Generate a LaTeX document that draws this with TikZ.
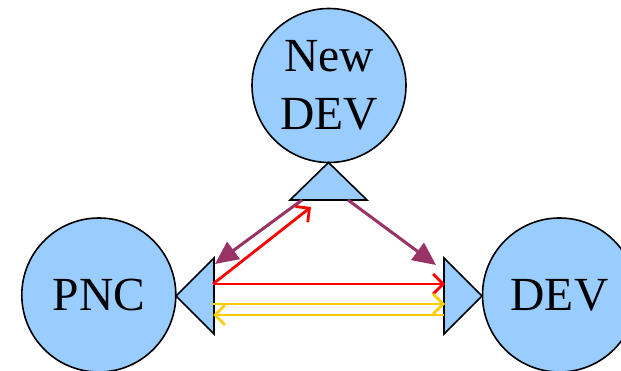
\documentclass[tikz,border=0pt]{standalone}
\usepackage{fontspec}
\setmainfont{Liberation Serif}
\usetikzlibrary{arrows.meta}
\definecolor{nodeblue}{HTML}{99CCFF}
\definecolor{plum}{HTML}{993366}
\definecolor{gold}{HTML}{FFCC00}
\begin{document}
\begin{tikzpicture}[x=1pt,y=-1pt,
  devnode/.style={circle, draw=black, line width=1.6pt, fill=nodeblue,
    minimum size=154pt, inner sep=0pt, align=center,
    font=\fontsize{47.5}{57.6}\selectfont},
  tri/.style={draw=black, line width=1.6pt, fill=nodeblue, line join=miter},
  plumarrow/.style={draw=plum, line width=3pt, -{Triangle[length=23pt,width=21pt]}},
  redarrow/.style={draw=red, line width=2.8pt, -{Straight Barb[length=10pt,width=20pt]}},
  goldarrow/.style={draw=gold, line width=2.8pt, -{Straight Barb[length=10pt,width=20pt]}}]
\useasboundingbox (0,0) rectangle (621,371);

% stations
\node[devnode] (newdev) at (329,85.5) {New\\DEV};
\node[devnode] (pnc) at (98.8,295) {PNC};
\node[devnode] (dev) at (559.5,295) {DEV};

% antenna triangles
\coordinate (topA) at (328.5,162.5);
\coordinate (topL) at (290,200);
\coordinate (topR) at (367,200);
\draw[tri] (topA) -- (topL) -- (topR) -- cycle;

\coordinate (leftA) at (176,296);
\coordinate (leftT) at (214,258);
\coordinate (leftB) at (214,334);
\draw[tri] (leftA) -- (leftT) -- (leftB) -- cycle;

\coordinate (rightA) at (482,296);
\coordinate (rightT) at (444,258);
\coordinate (rightB) at (444,334);
\draw[tri] (rightA) -- (rightT) -- (rightB) -- cycle;

% connector end points
\coordinate (p1s) at (302,200);
\coordinate (p1e) at (215,264);
\coordinate (p2s) at (348,200);
\coordinate (p2e) at (436,265);
\coordinate (r0) at (213,284);
\coordinate (r1) at (311,207);
\coordinate (r2) at (445,284);
\coordinate (y1s) at (213,304);
\coordinate (y1e) at (445,304);
\coordinate (y2s) at (444,315);
\coordinate (y2e) at (213,315);

% connectors
\draw[plumarrow] (p1s) -- (p1e);
\draw[plumarrow] (p2s) -- (p2e);
\draw[redarrow] (r0) -- (r1);
\draw[redarrow] (r0) -- (r2);
\draw[goldarrow] (y1s) -- (y1e);
\draw[goldarrow] (y2s) -- (y2e);
\end{tikzpicture}
\end{document}
